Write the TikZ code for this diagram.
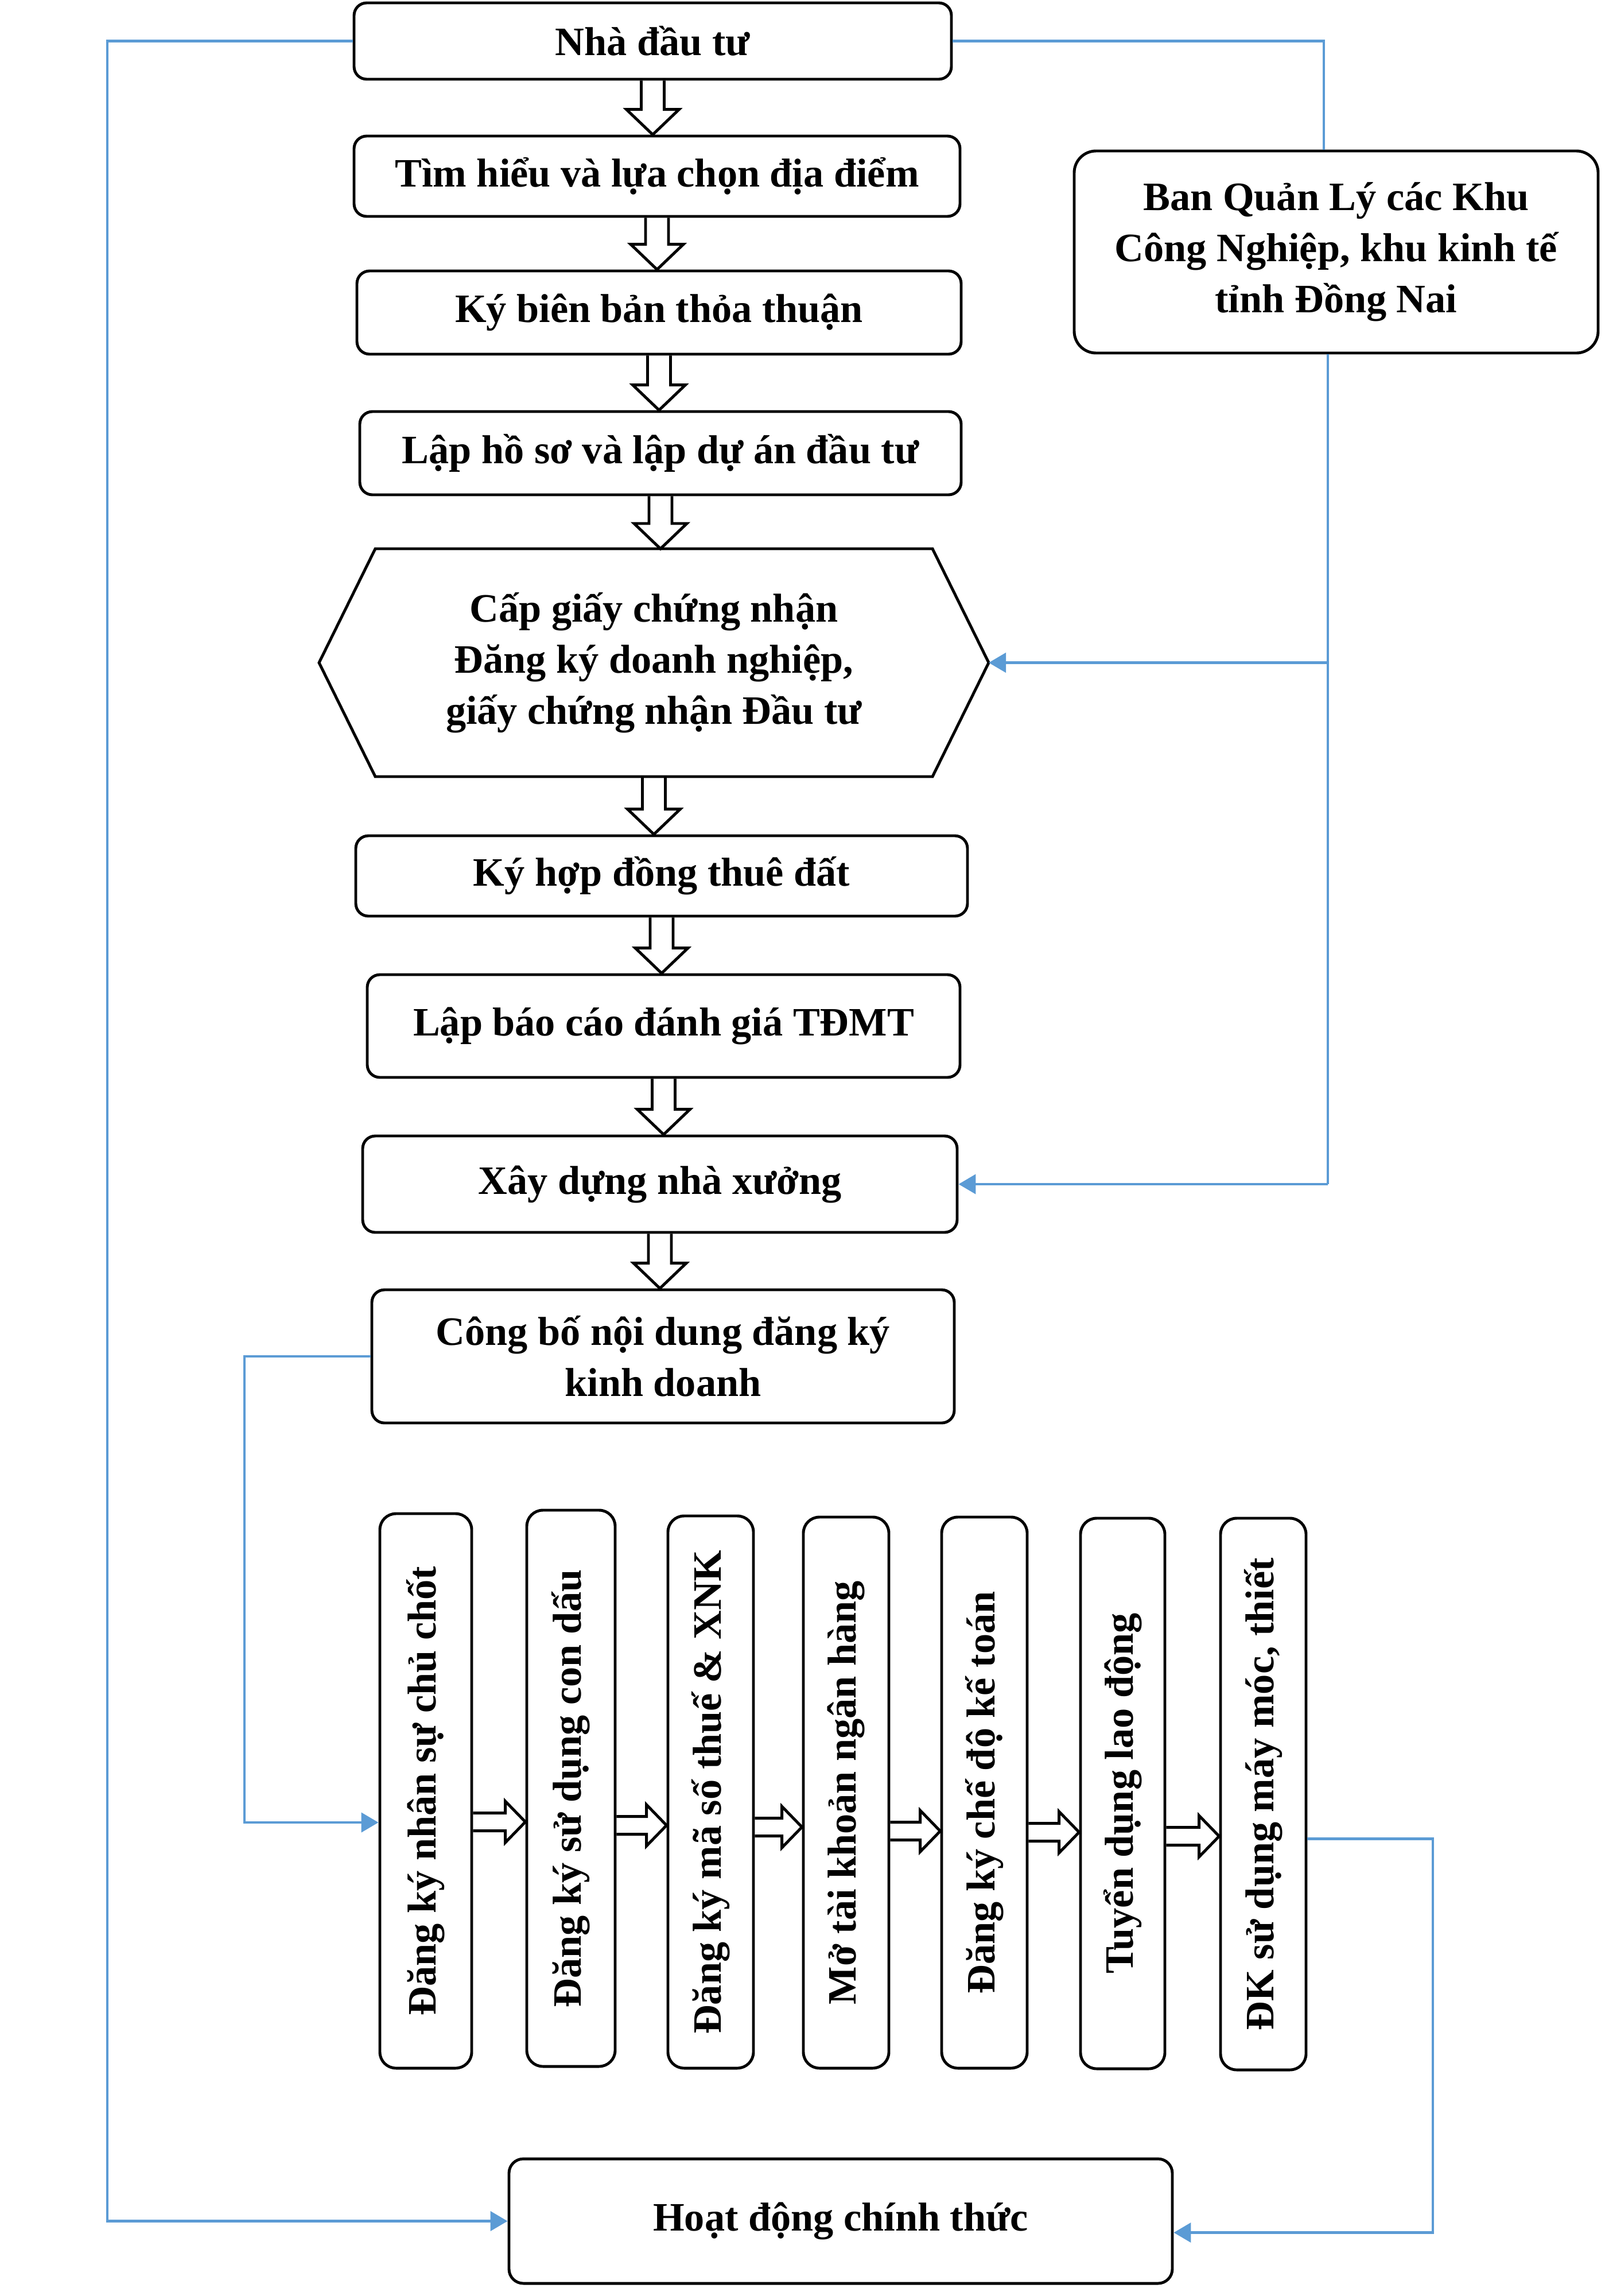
\documentclass[tikz,border=0pt]{standalone}
\usepackage{fontspec}
\setmainfont{Liberation Serif}
\usetikzlibrary{calc, arrows.meta}
\definecolor{linkblue}{HTML}{5B9BD5}
\newcommand{\hollowdown}[2]{%
    \draw[hollow] let \p1=(#1.south), \p2=(#2.north) in
        (\x1-0.2cm,\y1)--(\x1-0.2cm,\y2+0.44cm)--(\x1-0.46cm,\y2+0.44cm)--(\x1,\y2)
        --(\x1+0.46cm,\y2+0.44cm)--(\x1+0.2cm,\y2+0.44cm)--(\x1+0.2cm,\y1);}
\newcommand{\hollowright}[3]{%
    \draw[hollow] let \p1=(#1.east), \p2=(#2.west) in
        (\x1,{#3cm+0.155cm})--(\x2-0.35cm,{#3cm+0.155cm})--(\x2-0.35cm,{#3cm+0.36cm})--(\x2,{#3cm})
        --(\x2-0.35cm,{#3cm-0.36cm})--(\x2-0.35cm,{#3cm-0.155cm})--(\x1,{#3cm-0.155cm});}

\begin{document}
\begin{tikzpicture}[
        txt/.style={align=center, inner sep=0pt, font=\fontsize{20}{25.3}\selectfont\bfseries},
        box/.style={txt, draw, line width=1.4pt, rounded corners=0.22cm},
        hollow/.style={line width=1.4pt, line join=miter},
        link/.style={draw=linkblue, line width=1.3pt},
        linkarrow/.style={link, -{Triangle[length=0.3cm, width=0.34cm]}}
    ]
            \useasboundingbox (0,0) rectangle (27.97,-40);
            \node[box, minimum width=10.41cm, minimum height=1.33cm] (n1) at (11.375,-0.715) {Nhà đầu tư};
            \node[box, minimum width=10.56cm, minimum height=1.40cm] (n2) at (11.45,-3.07) {Tìm hiểu và lựa chọn địa điểm};
            \node[box, minimum width=10.53cm, minimum height=1.45cm] (n3) at (11.485,-5.445) {Ký biên bản thỏa thuận};
            \node[box, minimum width=10.48cm, minimum height=1.45cm] (n4) at (11.51,-7.895) {Lập hồ sơ và lập dự án đầu tư};
            \node[txt, outer sep=0pt, minimum width=11.67cm, minimum height=3.97cm] (hex) at (11.395,-11.545) {Cấp giấy chứng nhận\\Đăng ký doanh nghiệp,\\giấy chứng nhận Đầu tư};
            \draw[line width=1.4pt] ([xshift=0.98cm]hex.north west)--([xshift=-0.98cm]hex.north east)--(hex.east)
                --([xshift=-0.98cm]hex.south east)--([xshift=0.98cm]hex.south west)--(hex.west)--cycle;
            \node[box, minimum width=10.66cm, minimum height=1.40cm] (n6) at (11.53,-15.26) {Ký hợp đồng thuê đất};
            \node[box, minimum width=10.33cm, minimum height=1.79cm] (n7) at (11.565,-17.875) {Lập báo cáo đánh giá TĐMT};
            \node[box, minimum width=10.36cm, minimum height=1.68cm] (n8) at (11.50,-20.63) {Xây dựng nhà xưởng};
            \node[box, minimum width=10.15cm, minimum height=2.32cm] (n9) at (11.555,-23.63) {Công bố nội dung đăng ký\\kinh doanh};
            \node[box, rounded corners=0.38cm, minimum width=9.13cm, minimum height=3.52cm] (ban) at (23.285,-4.39) {Ban Quản Lý các Khu\\Công Nghiệp, khu kinh tế\\tỉnh Đồng Nai};
            \foreach \i/\xx/\yy/\ww/\hh/\txt in {1/7.42/-31.20/1.60/9.66/{Đăng ký nhân sự chủ chốt},
                    2/9.95/-31.155/1.54/9.69/{Đăng ký sử dụng con dấu},
                    3/12.385/-31.22/1.49/9.62/{Đăng ký mã số thuế \& XNK},
                    4/14.745/-31.23/1.49/9.60/{Mở tài khoản ngân hàng},
                    5/17.155/-31.23/1.49/9.60/{Đăng ký chế độ kế toán},
                    6/19.565/-31.245/1.47/9.59/{Tuyển dụng lao động},
                    7/22.015/-31.255/1.49/9.61/{ĐK sử dụng máy móc, thiết}}{
                \node[box, rounded corners=0.28cm, minimum width=\ww cm, minimum height=\hh cm] (v\i) at (\xx,\yy) {\rotatebox{90}{\txt}};
            }
            \node[box, rounded corners=0.25cm, minimum width=11.56cm, minimum height=2.17cm] (hd) at (14.65,-38.695) {Hoạt động chính thức};
            \foreach \a/\b in {n1/n2, n2/n3, n3/n4, n4/hex, hex/n6, n6/n7, n7/n8, n8/n9}{
                \hollowdown{\a}{\b}
            }
            \foreach \a/\b/\yy in {v1/v2/-31.74, v2/v3/-31.80, v3/v4/-31.83, v4/v5/-31.90, v5/v6/-31.92, v6/v7/-31.99}{
                \hollowright{\a}{\b}{\yy}
            }
            \coordinate (lx) at (1.87,0);
            \coordinate (rx) at (23.07,0);
            \coordinate (rx2) at (23.14,0);
            \coordinate (bx) at (4.26,0);
            \coordinate (ex) at (24.97,0);
            \coordinate (v1in) at ([yshift=-0.55cm]v1.west);
            \coordinate (v7out) at ([yshift=-0.78cm]v7.east);
            \coordinate (hdin) at ([yshift=-0.2cm]hd.east);
            \draw[linkarrow] (n1.west)--(n1.west -| lx)--(hd.west -| lx)--(hd.west);
            \draw[link] (n1.east)--(n1.east -| rx)--(ban.north -| rx);
            \draw[link] (ban.south -| rx2)--(n8.east -| rx2);
            \draw[linkarrow] (hex.east -| rx2)--(hex.east);
            \draw[linkarrow] (n8.east -| rx2)--(n8.east);
            \draw[linkarrow] (n9.west)--(n9.west -| bx)--(v1in -| bx)--(v1in);
            \draw[linkarrow] (v7out)--(v7out -| ex)--(hdin -| ex)--(hdin);
        \end{tikzpicture}
\end{document}
